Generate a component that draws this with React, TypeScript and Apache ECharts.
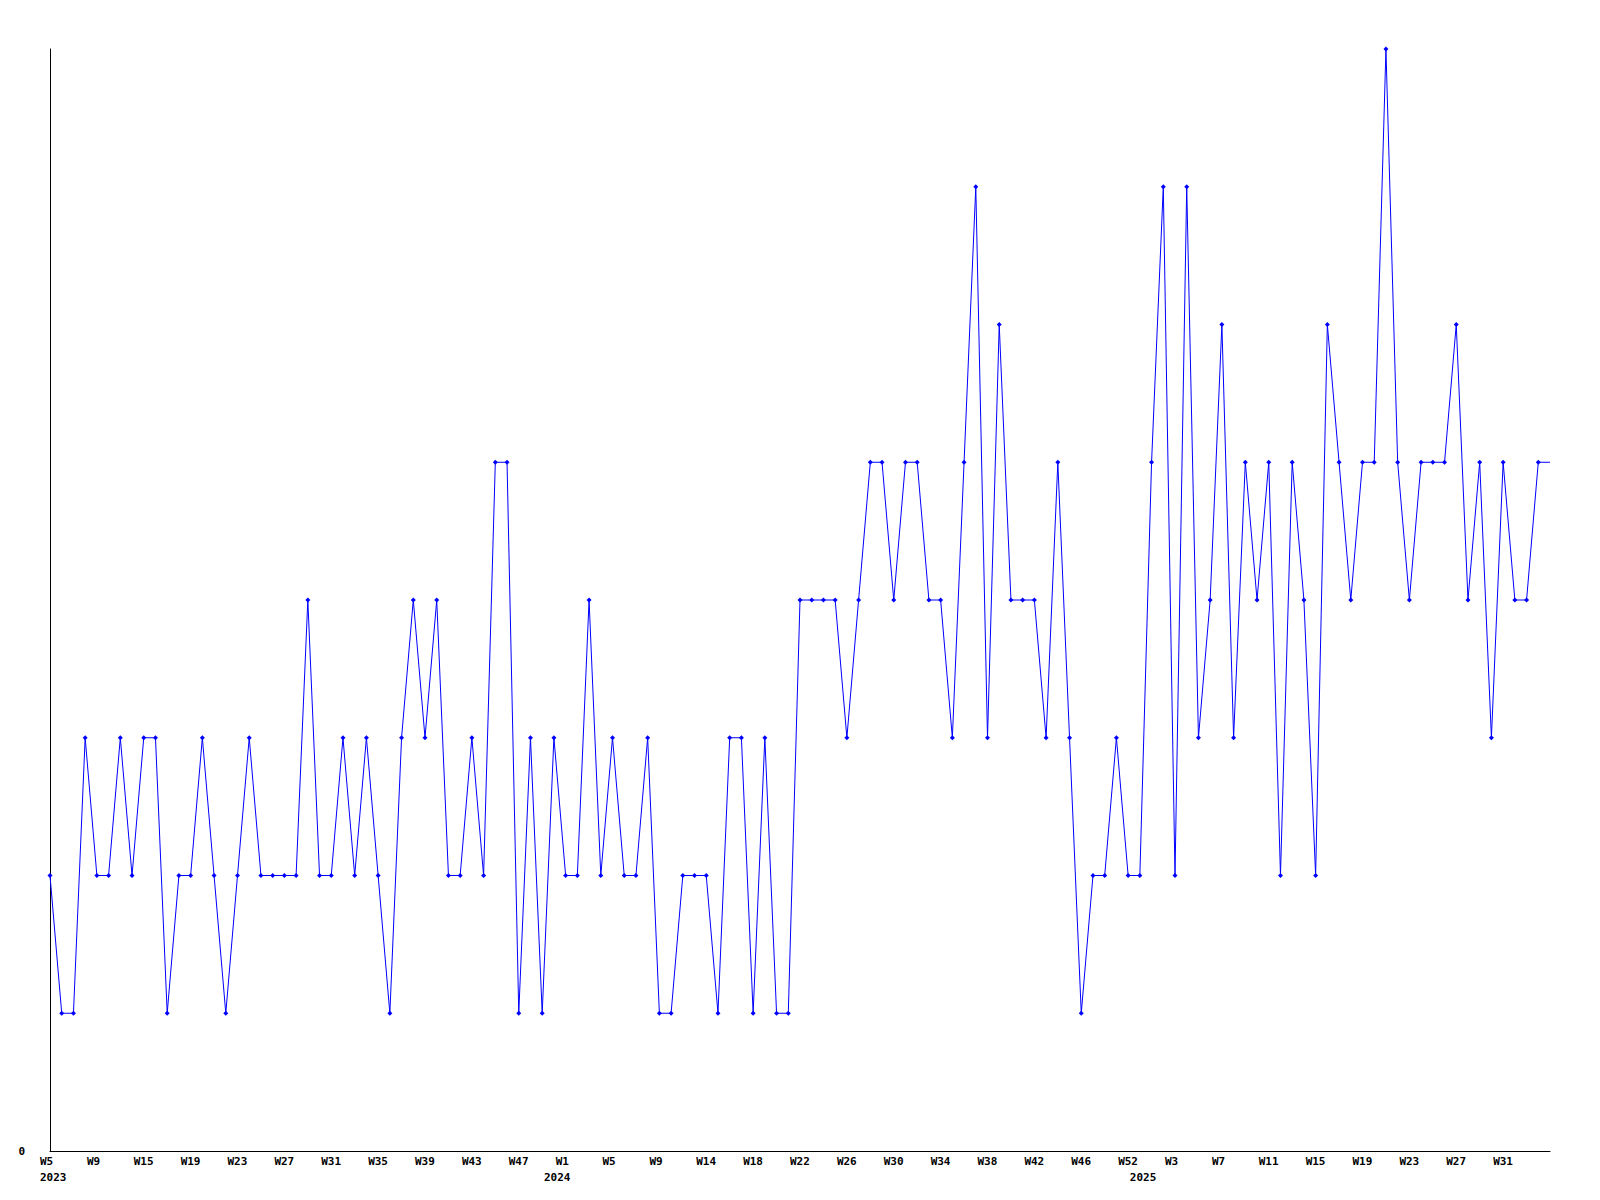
import React, { useEffect, useRef } from 'react';
import * as echarts from 'echarts';

// One value per period (last point is drawn without a marker)
const values: number[] = [
  2, 1, 1, 3, 2, 2, 3, 2, 3, 3,
  1, 2, 2, 3, 2, 1, 2, 3, 2, 2,
  2, 2, 4, 2, 2, 3, 2, 3, 2, 1,
  3, 4, 3, 4, 2, 2, 3, 2, 5, 5,
  1, 3, 1, 3, 2, 2, 4, 2, 3, 2,
  2, 3, 1, 1, 2, 2, 2, 1, 3, 3,
  1, 3, 1, 1, 4, 4, 4, 4, 3, 4,
  5, 5, 4, 5, 5, 4, 4, 3, 5, 7,
  3, 6, 4, 4, 4, 3, 5, 3, 1, 2,
  2, 3, 2, 2, 5, 7, 2, 7, 3, 4,
  6, 3, 5, 4, 5, 2, 5, 4, 2, 6,
  5, 4, 5, 5, 8, 5, 4, 5, 5, 5,
  6, 4, 5, 3, 5, 4, 4, 5, 5,
];

// Week tick labels, one every 4th period
const weekLabels: string[] = [
  'W5', 'W9', 'W15', 'W19', 'W23', 'W27', 'W31', 'W35', 'W39', 'W43', 'W47',
  'W1', 'W5', 'W9', 'W14', 'W18', 'W22', 'W26', 'W30', 'W34', 'W38', 'W42', 'W46', 'W52',
  'W3', 'W7', 'W11', 'W15', 'W19', 'W23', 'W27', 'W31',
];
const weekLabelStep = 4;

// Year labels and the period they sit under
const yearLabels: string[] = ['2023', '2024', '2025'];
const yearLabelPeriods: number[] = [0, 43, 93];

const yMin = 0;
const yMax = 8;

export default function App() {
  const ref = useRef<HTMLDivElement>(null);

  useEffect(() => {
    if (!ref.current) return;
    const chart = echarts.init(ref.current, null, { renderer: 'svg' });
    const categories = values.map((_, i) => String(i));
    const last = values.length - 1;
    const font = {
      fontFamily: 'DejaVu Sans Mono',
      fontWeight: 'bold' as const,
      fontSize: 11,
      color: '#000',
    };

    chart.setOption({
      animation: false,
      backgroundColor: '#ffffff',
      grid: { left: 50, right: 50, top: 49, bottom: 49, containLabel: false },
      xAxis: [
        {
          type: 'category',
          data: categories,
          boundaryGap: false,
          position: 'bottom',
          axisLine: { show: true, onZero: false, lineStyle: { color: '#000', width: 1 } },
          axisTick: { show: false },
          splitLine: { show: false },
          axisLabel: {
            ...font,
            interval: weekLabelStep - 1,
            align: 'left',
            verticalAlign: 'top',
            padding: [0, 0, 0, -10],
            margin: 5,
            formatter: (_v: string, i: number) => weekLabels[Math.round(i / weekLabelStep)] ?? '',
          },
        },
        {
          type: 'category',
          data: categories,
          boundaryGap: false,
          position: 'bottom',
          axisLine: { show: false, onZero: false },
          axisTick: { show: false },
          splitLine: { show: false },
          axisLabel: {
            ...font,
            interval: (i: number) => yearLabelPeriods.includes(i),
            align: 'left',
            verticalAlign: 'top',
            padding: [0, 0, 0, -10],
            margin: 21,
            formatter: (_v: string, i: number) => {
              const k = yearLabelPeriods.indexOf(i);
              return k >= 0 ? yearLabels[k] : '';
            },
          },
        },
      ],
      yAxis: {
        type: 'value',
        min: yMin,
        max: yMax,
        interval: 1,
        axisLine: { show: true, lineStyle: { color: '#000', width: 1 } },
        axisTick: { show: false },
        splitLine: { show: false },
        axisLabel: {
          ...font,
          margin: 25,
          formatter: (v: number) => (v === yMin ? String(v) : ''),
        },
      },
      series: [
        {
          type: 'line',
          xAxisIndex: 0,
          data: values.map((v, i) => (i === last ? { value: v, symbol: 'none' } : v)),
          symbol: 'diamond',
          symbolSize: 5,
          showAllSymbol: true,
          lineStyle: { color: '#0000ff', width: 1 },
          itemStyle: { color: '#0000ff' },
        },
      ],
    });

    return () => chart.dispose();
  }, []);

  return (
    <div
      ref={ref}
      style={{ position: 'absolute', left: 0, top: 0, width: 1600, height: 1200, background: '#fff' }}
    />
  );
}
